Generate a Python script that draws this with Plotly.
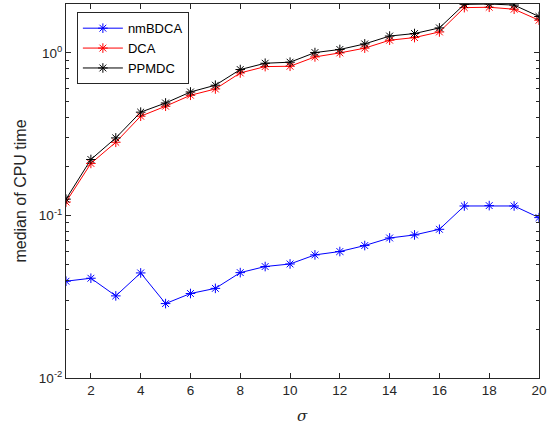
import plotly.graph_objects as go

sigma = list(range(1, 21))
nmBDCA = [0.0394, 0.0411, 0.0320, 0.0443, 0.0287, 0.0331, 0.0356, 0.0445, 0.0485, 0.0503,
          0.0572, 0.0600, 0.0653, 0.0727, 0.0759, 0.0822, 0.1144, 0.1150, 0.1144, 0.0970]
DCA = [0.121, 0.209, 0.282, 0.408, 0.470, 0.549, 0.600, 0.753, 0.824, 0.828,
       0.945, 1.000, 1.070, 1.197, 1.243, 1.346, 1.900, 1.910, 1.857, 1.589]
PPMDC = [0.126, 0.221, 0.300, 0.432, 0.492, 0.575, 0.633, 0.790, 0.864, 0.877,
         1.005, 1.050, 1.136, 1.270, 1.316, 1.425, 1.990, 2.000, 1.970, 1.675]

series = [("nmBDCA", nmBDCA, "#0000FF"), ("DCA", DCA, "#FF0000"), ("PPMDC", PPMDC, "#000000")]

major_y = [0.01, 0.1, 1]
major_y_text = ["10<sup>-2</sup>", "10<sup>-1</sup>", "10<sup>0</sup>"]
minor_y = [m * d for d in (0.01, 0.1, 1) for m in range(2, 10) if m * d <= 2.0]
x_ticks = list(range(2, 21, 2))

fig = go.Figure()
for name, vals, col in series:
    fig.add_trace(go.Scatter(
        x=sigma, y=vals, name=name, mode="lines+markers",
        line=dict(color=col, width=1),
        marker=dict(symbol="asterisk", size=8, color=col, line=dict(width=1, color=col)),
    ))

axcol = "#262626"
fig.update_layout(
    width=552, height=427,
    margin=dict(l=66, r=13, t=4, b=49),
    paper_bgcolor="white", plot_bgcolor="white",
    font=dict(family="Liberation Sans, Arial, sans-serif", size=13, color=axcol),
    showlegend=True,
    legend=dict(x=0.023, y=0.978, xanchor="left", yanchor="top",
                bordercolor=axcol, borderwidth=1, bgcolor="white", itemwidth=40,
                font=dict(size=13, color="#000000"), tracegroupgap=0),
    annotations=[dict(text="<i>σ</i>", xref="paper", yref="paper", x=0.5, y=-0.102,
                      xanchor="center", yanchor="middle", showarrow=False,
                      font=dict(family="DejaVu Serif, serif", size=15, color=axcol))],
)
fig.update_xaxes(
    range=[1, 20], tickvals=x_ticks, ticks="inside", ticklen=5, tickcolor=axcol,
    showline=True, linecolor=axcol, linewidth=1, mirror="ticks", showgrid=False,
    zeroline=False, automargin=False, tickfont=dict(size=13.5),
)
fig.update_yaxes(
    type="log", range=[-2, 0.301], tickvals=major_y, ticktext=major_y_text,
    ticks="inside", ticklen=5, tickcolor=axcol, tickfont=dict(size=13.5),
    minor=dict(tickvals=minor_y, ticks="inside", ticklen=3, tickcolor=axcol, showgrid=False),
    showline=True, linecolor=axcol, linewidth=1, mirror="ticks", showgrid=False,
    zeroline=False, automargin=False,
    title=dict(text="median of CPU time", font=dict(size=16), standoff=8),
)

fig.write_html("out.html", post_script="document.body.style.margin='0';",
               config={"displayModeBar": False})
